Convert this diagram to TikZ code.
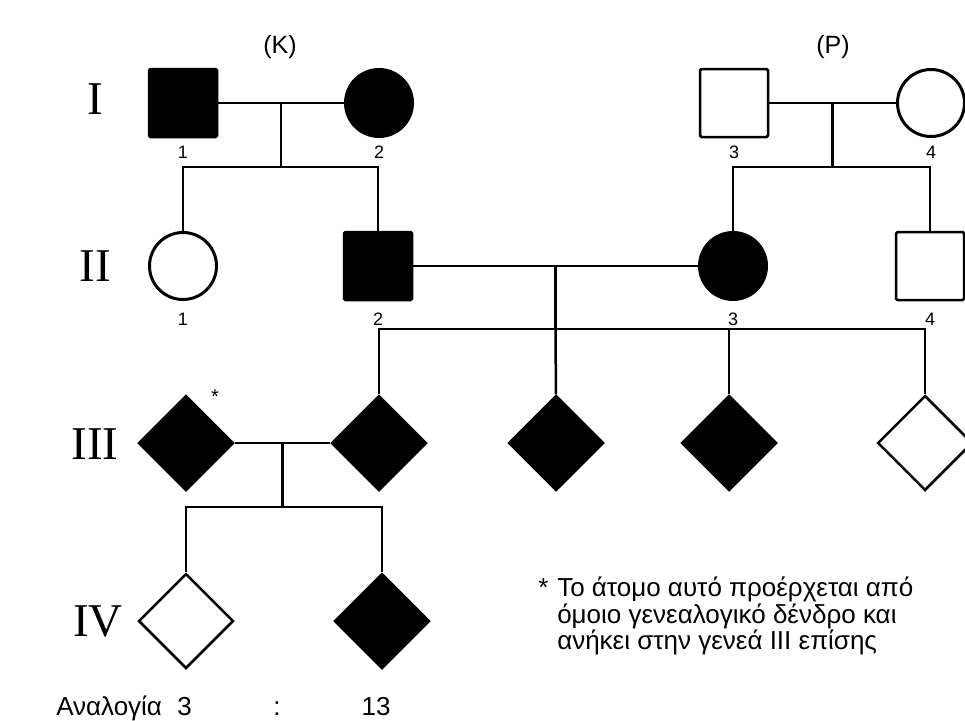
\documentclass[tikz,border=0pt]{standalone}
\usepackage{fontspec}
\setmainfont{Liberation Sans}
\newfontfamily\romanfont{Liberation Serif}
\usetikzlibrary{shapes.geometric,positioning}

\begin{document}
\begin{tikzpicture}[x=1pt,y=-1pt,line width=2.5pt]
    \tikzset{male/.style={draw,rectangle,rounded corners=1.5pt,inner sep=0pt,minimum size=68pt},
    female/.style={draw,circle,inner sep=0pt,minimum size=67pt,line width=3pt},
    unknown/.style={draw,diamond,inner sep=0pt,minimum size=95pt},
    sick/.style={fill=black},
    gen/.style={font=\romanfont\fontsize{47}{47}\selectfont,inner sep=0pt},
    num/.style={font=\fontsize{18}{18}\selectfont,inner sep=0pt,text height=13pt,text depth=0pt},
    txt/.style={font=\fontsize{26}{26}\selectfont,inner sep=0pt}}

    \clip (0,0) rectangle (965,720);

    \node[gen] (gI) at (95,99) {I};
    \node[gen] (gII) at (95,266) {II};
    \node[gen] (gIII) at (95,444) {III};
    \node[gen] (gIV) at (98,621) {IV};

    \node[male,sick] (i1) at (183,103) {};
    \node[female,sick] (i2) at (379,103) {};
    \node[male] (i3) at (734,103) {};
    \node[female] (i4) at (931,103) {};
    \node[txt,font=\fontsize{25}{25}\selectfont] (famK) at (280,47) {(K)};
    \node[txt,font=\fontsize{25}{25}\selectfont] (famP) at (833,47) {(P)};
    \node[num,below=6pt of i1] {1};
    \node[num,below=6pt of i2] {2};
    \node[num,below=6pt of i3] {3};
    \node[num,below=6pt of i4] {4};

    \node[female] (ii1) at (183,266) {};
    \node[male,sick] (ii2) at (378,266) {};
    \node[female,sick] (ii3) at (733,266) {};
    \node[male] (ii4) at (930,266) {};
    \node[num,below=10pt of ii1] {1};
    \node[num,below=10pt of ii2] {2};
    \node[num,below=10pt of ii3] {3};
    \node[num,below=10pt of ii4] {4};

    \node[unknown,sick] (iii1) at (186,443) {};
    \node[unknown,sick] (iii2) at (379,443) {};
    \node[unknown,sick] (iii3) at (556,443) {};
    \node[unknown,sick] (iii4) at (729,443) {};
    \node[unknown] (iii5) at (925,443) {};
    \node[txt,font=\fontsize{20}{20}\selectfont,anchor=base] (star) at (215,403.5) {*};

    \node[unknown] (iv1) at (186,621) {};
    \node[unknown,sick] (iv2) at (382,621) {};

    \draw (i1) -- (i2) coordinate[midway] (mK);
    \draw (mK) -- ++(0,64) coordinate (sK);
    \draw (ii1) |- (sK) -| (ii2);
    \draw (i3) -- (i4) coordinate[midway] (mP);
    \draw (mP) -- ++(0,64) coordinate (sP);
    \draw (ii3) |- (sP) -| (ii4);

    \draw (ii2) -- (ii3) coordinate[midway] (mII);
    \draw (mII) -- ++(0,63) coordinate (sII);
    \draw (iii2) |- (sII) -| (iii5);
    \draw (sII) -- (iii3);
    \draw (iii4 |- sII) -- (iii4);

    \draw (iii1) -- (iii2) coordinate[midway] (mIII);
    \draw (mIII) -- ++(0,64) coordinate (sIII);
    \draw (iv1) |- (sIII) -| (iv2);

    \node[txt,anchor=base west] (note0) at (537,596.5) {*};
    \node[txt,anchor=base west] (note1) at (556,596.5) {Το άτομο αυτό προέρχεται από};
    \node[txt,anchor=base west] (note2) at (556,623) {όμοιο γενεαλογικό δένδρο και};
    \node[txt,anchor=base west] (note3) at (556,649.5) {ανήκει στην γενεά ΙΙΙ επίσης};

    \node[txt,anchor=base west] (ratio) at (55,715) {Αναλογία};
    \node[txt,anchor=base] (ratioA) at (184.5,715) {3};
    \node[txt,anchor=base] (ratioSep) at (277,715) {:};
    \node[txt,anchor=base] (ratioB) at (376,715) {13};
\end{tikzpicture}
\end{document}
